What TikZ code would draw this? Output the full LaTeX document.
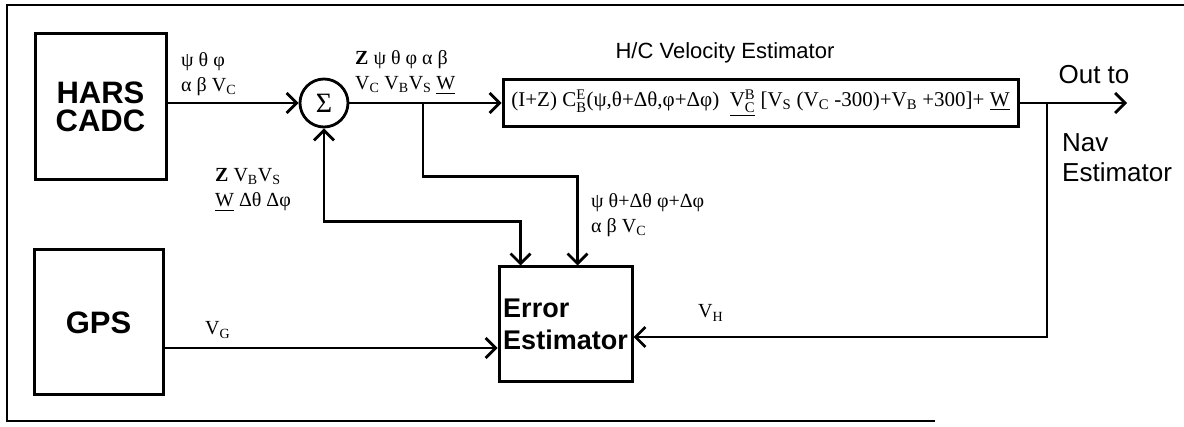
\documentclass[tikz,border=0pt]{standalone}
\usepackage{amsmath}
\usepackage{fontspec}
\setmainfont{Liberation Serif}
\setsansfont{Liberation Sans}
\usetikzlibrary{positioning, arrows.meta, calc}

\newcommand{\lo}[1]{\ensuremath{_{\text{#1}}}}

\tikzset{
  >={Straight Barb[length=10pt, width=20pt]},
  wire/.style={line width=2.8pt},
  sig/.style={wire, ->},
  blk/.style={draw, line width=3pt, minimum width=131pt, minimum height=146pt, inner sep=0pt,
    align=center, font=\fontsize{31}{28}\selectfont\sffamily\bfseries},
  lbl/.style={anchor=west, align=left, inner sep=0pt, font=\fontsize{20}{25}\selectfont},
  sanslbl/.style={inner sep=0pt, font=\fontsize{26}{30}\selectfont\sffamily}
}

\begin{document}
\begin{tikzpicture}[x=1pt, y=-1pt]
  \useasboundingbox (0,0) rectangle (1184,427);
  % outer frame
  \draw[wire] (1184,5) -- (7,5) -- (7,421) -- (935,421);

  % blocks
  \node[blk] (hars) at (100.5,107) {HARS\\CADC};
  \node[blk, minimum width=129pt, minimum height=145pt] (gps) at (98.5,322.5) {GPS};
  \node[draw, circle, line width=2.8pt, minimum size=48pt, inner sep=0pt,
        font=\fontsize{28}{28}\selectfont] (sum) at (324,103) {Σ};
  \node[draw, line width=3pt, minimum width=515pt, minimum height=47pt, inner sep=0pt,
        font=\fontsize{21}{23}\selectfont] (vel) at (760.5,103)
    {(I+Z) C\ensuremath{^{\text{E}}_{\text{B}}}(ψ,θ+Δθ,φ+Δφ)\enspace
     \underline{V\ensuremath{^{\text{B}}_{\text{C}}}} [V\lo{S} (V\lo{C} -300)+V\lo{B} +300]+ \underline{W}};
  \node[sanslbl, font=\fontsize{22}{26}\selectfont\sffamily] (velname) at (725,53) {H/C Velocity Estimator};
  \node[blk, minimum width=133pt, minimum height=115pt, align=left,
        font=\fontsize{27}{32}\selectfont\sffamily\bfseries] (err) at (565.5,324.5) {Error\\Estimator};

  % branch points and ports
  \coordinate (br1) at (423,103);
  \coordinate (br2) at (1047,103);
  \coordinate (out) at (1127,103);
  \coordinate (in1) at ($(err.north west)+(23,0)$);
  \coordinate (in2) at ($(err.north west)+(80,0)$);
  \coordinate (in3) at ($(err.east)+(0,12.5)$);
  \coordinate (in4) at ($(err.west)+(0,23.5)$);

  % connectors
  \draw[sig] (hars.east |- sum) -- (sum.west);
  \draw[sig] (sum.east) -- (vel.west);
  \draw[sig] (vel.east) -- (out);
  \draw[sig] (br1) |- ($(in2)+(0,-89)$) -- (in2);
  \draw[wire, <->] (sum.south) |- ($(in1)+(0,-44)$) -- (in1);
  \draw[sig] (br2) |- (in3);
  \draw[sig] (gps.east |- in4) -- (in4);

  % signal labels
  \node[lbl] (l1) at (181,74.5) {ψ θ φ\\α β V\lo{C}};
  \node[lbl] (l2) at (355,72.5) {\textbf{Z} ψ θ φ α β\\V\lo{C} V\lo{B}V\lo{S} \underline{W}};
  \node[lbl] (l3) at (215,190) {\textbf{Z} V\lo{B}V\lo{S}\\\underline{W} Δθ Δφ};
  \node[lbl] (l4) at (591,215) {ψ θ+Δθ φ+Δφ\\α β V\lo{C}};
  \node[lbl] (vg) at (205,330) {V\lo{G}};
  \node[lbl] (vh) at (698,313) {V\lo{H}};
  \node[sanslbl] (outto) at (1094,75) {Out to};
  \node[sanslbl, anchor=west, align=left] (nav) at (1062,158) {Nav\\Estimator};
\end{tikzpicture}
\end{document}
